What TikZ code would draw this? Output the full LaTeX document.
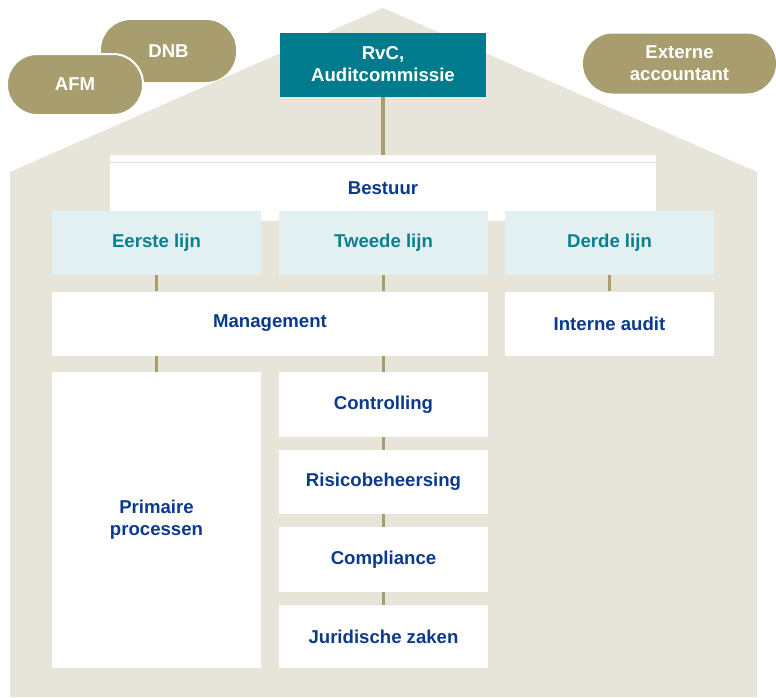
\documentclass[tikz,border=0pt]{standalone}
\usepackage{fontspec}
\setmainfont{Liberation Sans}
\definecolor{housegray}{HTML}{E7E4DA}
\definecolor{goldpill}{HTML}{A79D6E}
\definecolor{rvcteal}{HTML}{007B8E}
\definecolor{lijnblue}{HTML}{E2F0F2}
\definecolor{lijntext}{HTML}{0A7F8F}
\definecolor{boxtext}{HTML}{0B3A8D}
\tikzset{every node/.style={font=\bfseries\fontsize{18.6}{22}\selectfont, align=center, inner sep=0pt}}
\tikzset{pill/.style={fill=goldpill, text=white, rounded corners=30pt}}
\tikzset{lijn box/.style={fill=lijnblue, text=lijntext, minimum width=209pt, minimum height=64pt}}
\tikzset{org box/.style={fill=white, text=boxtext, minimum width=209pt}}
\tikzset{link/.style={draw=goldpill, line width=3.5pt}}

\begin{document}
\begin{tikzpicture}[x=1pt,y=-1pt]
        \useasboundingbox (0,0) rectangle (776,697);
        \fill[housegray] (10,697) -- (10,172) -- (383,8) -- (757,172) -- (757,697) -- cycle;

        \node[pill, minimum width=135pt, minimum height=62pt] (dnb) at (168.5,51) {DNB};
        \node[pill, draw=white, line width=2pt, minimum width=136pt, minimum height=61pt] (afm) at (75,84.5) {AFM};
        \node[pill, minimum width=193pt, minimum height=60pt] (ext) at (679.5,63.5) {Externe\\accountant};
        \node[fill=rvcteal, text=white, minimum width=206pt, minimum height=64pt] (rvc) at (383,64.5) {RvC,\\Auditcommissie};

        \node[org box, minimum width=546pt, minimum height=66pt] (bestuur) at (383,188) {Bestuur};
        \draw[housegray, line width=1pt] ([yshift=-8pt]bestuur.north west) -- ([yshift=-8pt]bestuur.north east);

        \node[lijn box] (eerste) at (156.5,242.5) {Eerste lijn};
        \node[lijn box] (tweede) at (383.5,242.5) {Tweede lijn};
        \node[lijn box] (derde) at (609.5,242.5) {Derde lijn};

        \node[org box, minimum width=436pt, minimum height=64pt] (mgmt) at (270,323.5) {Management};
        \node[org box, minimum height=64pt] (interne) at (609.5,323.5) {Interne audit};

        \node[org box, minimum height=296pt] (primaire) at (156.5,520) {Primaire\\processen};
        \node[org box, minimum height=65pt] (controlling) at (383.5,404.5) {Controlling};
        \node[org box, minimum height=64pt] (risico) at (383.5,482) {Risicobeheersing};
        \node[org box, minimum height=65pt] (compliance) at (383.5,559.5) {Compliance};
        \node[org box, minimum height=63pt] (juridisch) at (383.5,636.5) {Juridische zaken};

        \draw[link] (rvc.south) -- (rvc.south |- bestuur.north);
        \draw[link] (eerste.south) -- (eerste.south |- mgmt.north);
        \draw[link] (tweede.south) -- (tweede.south |- mgmt.north);
        \draw[link] (derde.south) -- (interne.north);
        \draw[link] (primaire.north |- mgmt.south) -- (primaire.north);
        \draw[link] (controlling.north |- mgmt.south) -- (controlling.north);
        \draw[link] (controlling.south) -- (risico.north);
        \draw[link] (risico.south) -- (compliance.north);
        \draw[link] (compliance.south) -- (juridisch.north);
    \end{tikzpicture}
\end{document}
